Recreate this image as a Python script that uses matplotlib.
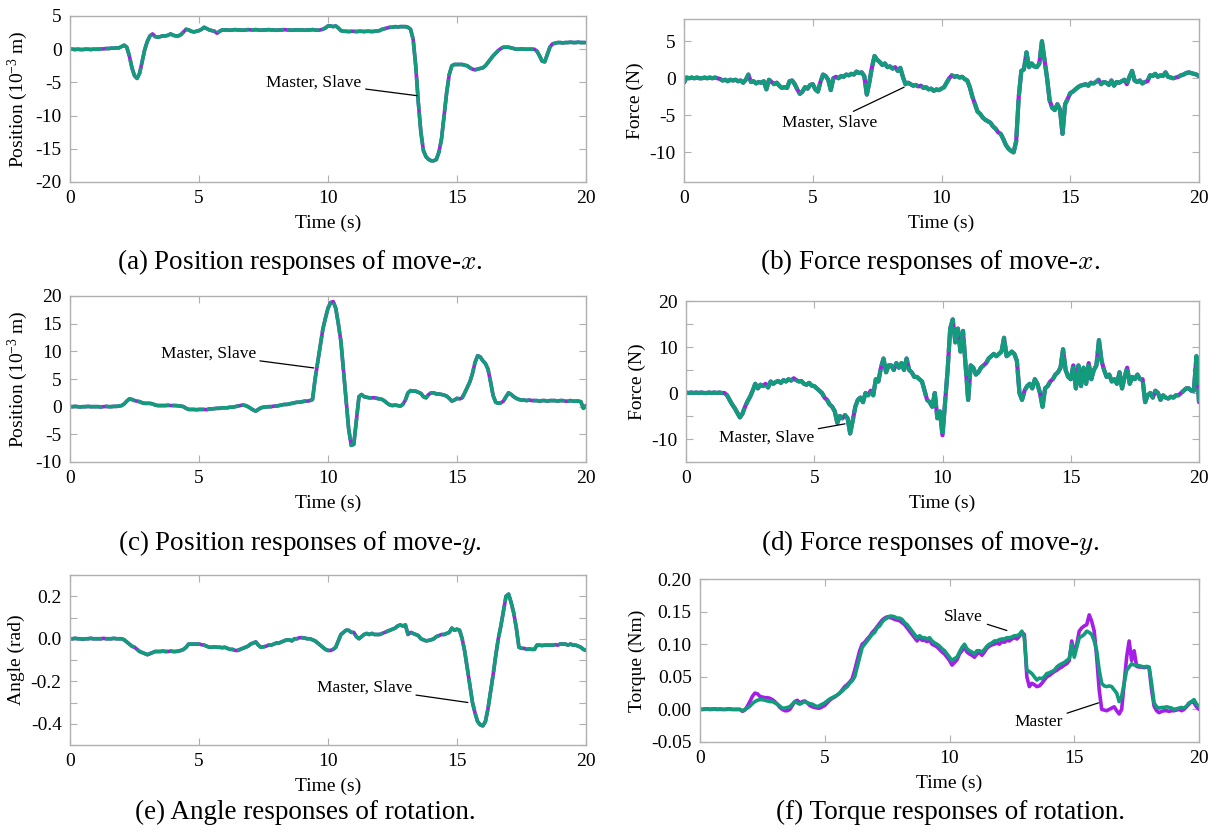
import numpy as np
import matplotlib
matplotlib.use('Agg')
import matplotlib.pyplot as plt
from matplotlib.ticker import MultipleLocator, FormatStrFormatter

# pyplot setup
plt.rcParams['font.family'] = ['Liberation Serif', 'DejaVu Serif']
plt.rcParams['mathtext.fontset'] = 'custom'
plt.rcParams['mathtext.rm'] = 'Liberation Serif'
plt.rcParams['mathtext.it'] = 'Liberation Serif:italic'
plt.rcParams['axes.unicode_minus'] = False
plt.rcParams['font.size'] = 14

W, H = 1221, 833
MASTER_COLOR = '#a41ee8'
SLAVE_COLOR = '#129c7c'
FRAME_COLOR = '#b0b0b0'

# sampled every 0.1 s from 0 to 20 s (one row = 1 s)
pos_x = [
    0.0, 0.0, -0.05, 0.0, -0.05, -0.05, 0.0, 0.0, -0.05, 0.0,
    0.0, 0.0, 0.05, 0.05, 0.1, 0.1, 0.15, 0.15, 0.2, 0.2,
    0.4, 0.6, 0.3, -1.0, -2.8, -4.0, -4.4, -3.6, -1.8, 0.0,
    1.2, 2.0, 2.3, 1.9, 1.8, 1.9, 2.0, 2.0, 2.1, 2.3,
    2.1, 2.0, 2.0, 2.2, 2.6, 3.0, 2.9, 2.7, 2.6, 2.7,
    2.8, 3.0, 3.3, 3.1, 2.9, 2.8, 2.7, 2.4, 2.7, 2.9,
    2.9, 2.9, 2.85, 2.9, 2.95, 2.9, 2.9, 2.85, 2.9, 2.95,
    2.9, 2.9, 2.95, 2.9, 2.85, 2.9, 2.9, 2.95, 2.9, 2.9,
    2.85, 2.9, 2.9, 2.95, 2.9, 2.9, 2.85, 2.9, 2.9, 2.9,
    2.9, 2.85, 2.9, 2.9, 2.95, 2.9, 2.85, 2.9, 3.0, 3.2,
    3.5, 3.5, 3.4, 3.5, 3.2, 2.8, 2.7, 2.7, 2.65, 2.7,
    2.7, 2.65, 2.7, 2.7, 2.65, 2.7, 2.7, 2.65, 2.7, 2.75,
    2.8, 3.0, 3.1, 3.2, 3.3, 3.3, 3.4, 3.35, 3.4, 3.4,
    3.4, 3.3, 3.0, 1.5, -2.5, -8.0, -12.5, -15.3, -16.2, -16.6,
    -16.8, -16.8, -16.6, -15.5, -13.5, -10.0, -6.5, -3.8, -2.5, -2.3,
    -2.3, -2.3, -2.3, -2.4, -2.5, -2.8, -3.0, -3.1, -3.0, -2.9,
    -2.8, -2.5, -2.0, -1.5, -1.0, -0.6, -0.2, 0.1, 0.3, 0.3,
    0.3, 0.2, 0.1, 0.0, 0.0, 0.05, 0.0, 0.0, 0.0, 0.0,
    0.0, -0.3, -1.0, -1.8, -1.9, -0.8, 0.3, 0.8, 0.9, 1.0,
    1.0, 0.95, 1.0, 1.0, 1.05, 1.0, 1.0, 1.05, 1.0, 1.0,
    1.0,
]

force_x = [
    -0.6, 0.1, 0.0, 0.1, 0.0, 0.1, 0.0, 0.0, 0.1, 0.0,
    0.1, 0.0, 0.1, 0.0, -0.1, -0.3, -0.2, -0.4, -0.2, -0.3,
    -0.2, -0.4, -0.3, -0.6, -0.2, 0.5, -0.5, -0.4, -0.7, -0.5,
    -0.6, -0.4, -1.5, -0.2, -0.5, -0.8, -0.6, -1.0, -1.3, -1.2,
    -1.3, -0.4, -0.3, -0.8, -1.5, -2.1, -1.8, -1.2, -1.4, -0.9,
    -0.8, -1.5, -1.8, -0.5, 0.5, 0.3, -0.2, -1.6, 0.0, 0.2,
    0.0, 0.3, 0.2, 0.5, 0.4, 0.6, 0.5, 0.9, 0.7, 0.8,
    0.3, -2.2, -0.5, 1.5, 3.0, 2.5, 2.2, 1.8, 2.0, 1.5,
    1.6, 1.3, 1.5, 1.0, 1.4, 0.2, -0.8, -0.6, -0.8, -1.0,
    -0.9, -1.1, -1.0, -1.3, -1.2, -1.5, -1.4, -1.7, -1.5, -1.6,
    -1.4, -1.2, -0.6, 0.0, 0.4, 0.2, 0.3, 0.1, 0.2, -0.1,
    -0.3, -1.2, -2.5, -3.5, -4.5, -4.8, -5.3, -5.6, -5.8, -6.0,
    -6.5, -6.8, -7.3, -7.5, -8.2, -9.0, -9.5, -9.8, -10.0, -8.5,
    -2.5, 1.0, 1.2, 3.5, 1.5, 2.0, 1.6, 1.5, 2.0, 5.0,
    2.5, 0.0, -3.0, -4.0, -4.3, -3.5, -4.2, -7.5, -3.5, -2.8,
    -2.0, -1.8, -1.5, -1.2, -1.0, -0.9, -0.8, -1.0, -0.6, -0.7,
    -0.5, -0.2, -0.8, -0.5, -0.6, -0.9, -0.3, -1.0, -0.5, -0.6,
    -0.4, -0.2, -0.8, 0.2, 1.0, -0.3, -0.5, -0.3, -0.7, -0.5,
    -0.4, 0.4, 0.3, 0.6, 0.2, 0.4, 0.3, 0.8, 0.2, 0.1,
    0.0, 0.1, 0.2, 0.4, 0.5, 0.7, 0.8, 0.7, 0.6, 0.5,
    0.3,
]

pos_y = [
    0.0, 0.0, 0.05, 0.0, -0.05, 0.0, 0.0, 0.05, 0.0, 0.0,
    0.0, 0.0, -0.05, 0.0, 0.05, 0.0, 0.0, 0.05, 0.05, 0.1,
    0.2, 0.5, 1.0, 1.4, 1.3, 1.1, 1.0, 0.9, 0.7, 0.6,
    0.6, 0.6, 0.5, 0.3, 0.2, 0.2, 0.2, 0.2, 0.25, 0.2,
    0.2, 0.2, 0.15, 0.1, 0.0, -0.3, -0.5, -0.5, -0.5, -0.55,
    -0.5, -0.5, -0.5, -0.55, -0.4, -0.4, -0.35, -0.3, -0.3, -0.2,
    -0.2, -0.2, -0.1, -0.1, 0.0, 0.1, 0.2, 0.3, 0.2, 0.0,
    -0.3, -0.6, -0.8, -0.5, -0.2, -0.1, -0.05, 0.0, 0.0, 0.1,
    0.1, 0.2, 0.3, 0.4, 0.4, 0.5, 0.6, 0.7, 0.8, 0.8,
    0.9, 1.0, 1.0, 1.1, 1.3, 5.0, 8.0, 11.0, 14.0, 16.0,
    17.8, 18.8, 19.0, 17.8, 15.0, 11.8, 6.5, 1.2, -4.0, -7.0,
    -6.8, -2.5, 1.8, 2.2, 1.8, 1.7, 1.6, 1.6, 1.6, 1.5,
    1.4, 1.3, 1.0, 0.6, 0.3, 0.2, 0.3, 0.2, 0.1, 0.4,
    1.2, 2.5, 2.9, 2.8, 2.8, 2.6, 2.4, 1.8, 1.6, 2.2,
    2.5, 2.5, 2.3, 2.3, 2.2, 2.1, 1.9, 1.5, 1.0, 1.2,
    1.5, 1.4, 1.6, 2.5, 3.5, 4.5, 6.0, 8.0, 9.2, 9.0,
    8.3, 7.8, 6.8, 4.5, 2.0, 0.8, 0.6, 0.7, 1.0, 1.8,
    2.5, 2.2, 1.8, 1.5, 1.3, 1.2, 1.2, 1.1, 1.2, 1.1,
    1.1, 1.1, 1.0, 1.1, 1.1, 1.0, 1.1, 1.1, 1.1, 1.0,
    1.1, 1.1, 1.0, 1.0, 1.1, 1.0, 1.0, 1.0, 0.9, -0.3,
    0.2,
]

force_y = [
    0.1, 0.0, 0.1, 0.0, 0.1, 0.0, 0.1, 0.0, 0.0, 0.1,
    0.0, 0.1, 0.0, 0.1, 0.0, 0.0, -0.5, -1.5, -2.5, -3.3,
    -4.3, -5.3, -4.5, -3.0, -1.8, -0.8, 0.5, 2.0, 1.0, 1.8,
    1.5, 2.0, 1.2, 2.5, 2.0, 2.4, 2.6, 2.2, 2.8, 2.5,
    3.0, 2.7, 3.2, 2.8, 2.5, 2.6, 2.0, 1.8, 2.2, 1.6,
    1.5, 1.0, 0.5, 0.0, -1.0, -1.5, -2.5, -3.0, -4.0, -6.5,
    -5.0, -5.5, -4.8, -5.5, -8.8, -6.0, -3.0, -1.5, -1.0, -2.0,
    0.0, -0.5, 0.5, -0.5, 3.0, 2.5, 5.5, 7.5, 4.5, 6.0,
    6.0, 5.0, 6.5, 5.5, 6.5, 5.0, 7.5, 5.0, 4.5, 3.5,
    3.5, 3.0, 2.5, 0.5, -1.5, -2.0, -3.0, 0.0, -5.5, -4.0,
    -9.2, -2.0, 5.0, 14.0, 16.0, 11.0, 14.0, 9.0, 13.5, 6.0,
    -1.5, 6.0, 5.5, 4.0, 4.5, 5.5, 6.0, 6.5, 7.5, 8.0,
    8.5, 8.0, 8.5, 9.0, 12.0, 8.0, 8.5, 9.0, 8.5, 7.0,
    0.0, -1.5, 0.5, 1.5, 2.0, 1.0, 3.0, 2.0, 0.0, -3.0,
    1.0, 1.5, 2.5, 3.0, 4.0, 4.5, 5.5, 9.5, 5.0, 3.5,
    3.0, 6.0, 1.0, 6.0, 1.5, 5.5, 2.0, 6.5, 3.0, 5.0,
    6.0, 11.5, 7.0, 5.0, 3.5, 4.0, 2.5, 3.0, 2.0, 4.5,
    1.0, 3.5, 5.5, 2.0, 3.5, 3.0, 4.0, 3.0, 3.0, -2.0,
    -0.5, 0.0, -1.0, 0.5, 0.0, -1.5, -0.5, -1.0, -1.2, -0.8,
    -1.0, -0.5, -0.5, 0.0, 0.5, 1.0, 1.0, 0.5, 0.5, 8.0,
    -2.0,
]

angle = [
    0.0, 0.0, 0.002, 0.0, 0.0, -0.002, 0.0, 0.0, 0.002, 0.0,
    0.0, 0.0, 0.0, 0.002, 0.0, 0.0, 0.0, 0.002, 0.0, 0.0,
    0.0, -0.005, -0.015, -0.025, -0.035, -0.04, -0.05, -0.06, -0.065, -0.07,
    -0.075, -0.07, -0.065, -0.06, -0.06, -0.06, -0.058, -0.06, -0.06, -0.058,
    -0.06, -0.06, -0.058, -0.055, -0.05, -0.04, -0.025, -0.025, -0.025, -0.025,
    -0.025, -0.028, -0.03, -0.035, -0.04, -0.04, -0.038, -0.04, -0.04, -0.042,
    -0.04, -0.045, -0.05, -0.05, -0.055, -0.055, -0.05, -0.045, -0.04, -0.035,
    -0.025, -0.02, -0.015, -0.03, -0.04, -0.038, -0.035, -0.03, -0.03, -0.025,
    -0.02, -0.02, -0.015, -0.01, -0.005, -0.005, -0.01, 0.0, 0.0, 0.005,
    0.005, 0.003, 0.0, 0.0, -0.005, -0.01, -0.02, -0.03, -0.04, -0.05,
    -0.055, -0.055, -0.05, -0.04, -0.01, 0.02, 0.03, 0.04, 0.04, 0.03,
    0.03, 0.01, 0.0, 0.01, 0.02, 0.025, 0.02, 0.025, 0.02, 0.02,
    0.02, 0.025, 0.03, 0.035, 0.04, 0.045, 0.05, 0.06, 0.065, 0.06,
    0.065, 0.02, 0.03, 0.025, 0.02, 0.015, 0.0, -0.005, -0.01, -0.008,
    -0.005, 0.0, 0.01, 0.015, 0.02, 0.02, 0.025, 0.03, 0.05, 0.04,
    0.045, 0.04, 0.0, -0.06, -0.14, -0.22, -0.3, -0.35, -0.39, -0.405,
    -0.41, -0.39, -0.33, -0.25, -0.17, -0.08, 0.0, 0.06, 0.13, 0.2,
    0.21, 0.17, 0.12, 0.05, -0.04, -0.045, -0.045, -0.05, -0.048, -0.05,
    -0.05, -0.03, -0.03, -0.032, -0.03, -0.03, -0.03, -0.03, -0.028, -0.03,
    -0.025, -0.025, -0.025, -0.03, -0.025, -0.03, -0.03, -0.035, -0.04, -0.05,
    -0.055,
]

torque_master = [
    0.0, 0.0, 0.0, 0.001, 0.0, 0.0, 0.001, 0.0, 0.0, 0.0,
    0.0, 0.0, 0.001, 0.0, 0.0, 0.0, 0.0, -0.003, -0.001, 0.005,
    0.012, 0.02, 0.025, 0.024, 0.02, 0.019, 0.018, 0.018, 0.017, 0.015,
    0.012, 0.008, 0.003, 0.0, -0.002, -0.002, 0.0, 0.006, 0.012, 0.014,
    0.01, 0.012, 0.013, 0.01, 0.006, 0.004, 0.003, 0.002, 0.002, 0.004,
    0.006, 0.01, 0.014, 0.017, 0.019, 0.022, 0.025, 0.03, 0.035, 0.038,
    0.042, 0.047, 0.06, 0.075, 0.09, 0.1, 0.103, 0.108, 0.112, 0.118,
    0.122, 0.127, 0.132, 0.137, 0.14, 0.142, 0.141, 0.14, 0.138, 0.137,
    0.136, 0.133, 0.13, 0.125, 0.12, 0.115, 0.11, 0.105, 0.11, 0.106,
    0.106, 0.104, 0.106, 0.1, 0.098, 0.096, 0.092, 0.088, 0.085, 0.08,
    0.075, 0.068, 0.072, 0.076, 0.085, 0.09, 0.095, 0.088, 0.085, 0.083,
    0.08, 0.085, 0.087, 0.083, 0.088, 0.094, 0.097, 0.099, 0.1, 0.102,
    0.1, 0.104, 0.103, 0.106, 0.105, 0.108, 0.11, 0.108, 0.112, 0.118,
    0.115, 0.05, 0.035, 0.04, 0.038, 0.035, 0.036, 0.04, 0.045, 0.05,
    0.052, 0.055, 0.058, 0.06, 0.063, 0.065, 0.068, 0.07, 0.075, 0.105,
    0.085, 0.1, 0.12, 0.125, 0.128, 0.13, 0.145, 0.135, 0.12, 0.08,
    0.03, 0.0, -0.001, -0.002, 0.0, 0.002, 0.004, -0.002, -0.007, 0.0,
    0.04, 0.08, 0.105, 0.075, 0.09, 0.066, 0.065, 0.065, 0.064, 0.065,
    0.064, 0.03, 0.005, -0.002, -0.005, -0.003, -0.002, -0.002, -0.003, -0.002,
    -0.002, -0.001, 0.0, -0.002, 0.0, 0.004, 0.008, 0.012, 0.01, 0.004,
    0.0,
]

torque_slave = [
    0.0, 0.0, 0.001, 0.0, 0.0, 0.001, 0.0, 0.0, 0.001, 0.0,
    0.0, 0.001, 0.0, 0.0, 0.0, 0.0, 0.0, -0.002, 0.0, 0.002,
    0.005, 0.009, 0.012, 0.014, 0.015, 0.015, 0.014, 0.013, 0.012, 0.012,
    0.01, 0.008, 0.005, 0.002, 0.002, 0.003, 0.004, 0.008, 0.012, 0.01,
    0.008, 0.01, 0.012, 0.01, 0.009, 0.008, 0.006, 0.004, 0.006, 0.008,
    0.01, 0.013, 0.016, 0.018, 0.02, 0.022, 0.025, 0.028, 0.032, 0.035,
    0.04, 0.044, 0.05, 0.065, 0.08, 0.095, 0.1, 0.105, 0.11, 0.115,
    0.118, 0.125, 0.128, 0.134, 0.138, 0.14, 0.143, 0.143, 0.142, 0.14,
    0.14, 0.138, 0.133, 0.13, 0.125, 0.12, 0.115, 0.11, 0.113, 0.11,
    0.11, 0.108, 0.11, 0.105, 0.102, 0.1, 0.097, 0.093, 0.09, 0.085,
    0.08, 0.075, 0.078, 0.08, 0.088, 0.095, 0.1, 0.093, 0.09, 0.088,
    0.085, 0.09, 0.09, 0.088, 0.092, 0.097, 0.1, 0.102, 0.105, 0.105,
    0.107, 0.108, 0.108, 0.11, 0.11, 0.111, 0.113, 0.113, 0.115, 0.12,
    0.11, 0.06, 0.058, 0.055, 0.05, 0.045, 0.048, 0.047, 0.05, 0.055,
    0.056, 0.058, 0.06, 0.065, 0.068, 0.07, 0.072, 0.075, 0.078, 0.1,
    0.08, 0.095, 0.11, 0.112, 0.115, 0.12, 0.118, 0.115, 0.105, 0.09,
    0.06, 0.04, 0.036, 0.035, 0.036, 0.035, 0.03, 0.025, 0.012, 0.02,
    0.04, 0.06, 0.065, 0.07, 0.068, 0.068, 0.067, 0.066, 0.065, 0.066,
    0.065, 0.04, 0.01, 0.004, 0.002, 0.003, 0.003, 0.004, 0.003, 0.002,
    0.0, 0.001, 0.002, 0.003, 0.002, 0.005, 0.01, 0.012, 0.015, 0.008,
    0.005,
]

captions = [
    r'(a) Position responses of move-$x$.',
    r'(b) Force responses of move-$x$.',
    r'(c) Position responses of move-$y$.',
    r'(d) Force responses of move-$y$.',
    '(e) Angle responses of rotation.',
    '(f) Torque responses of rotation.',
]


def add_axes_px(fig, x0, y0, x1, y1):
    '''add axes given pixel box (left, top, right, bottom)'''
    return fig.add_axes([x0 / W, 1 - y1 / H, (x1 - x0) / W, (y1 - y0) / H])


def draw_panel(ax, master, slave, ylim, step, ylabel, fmt=None, minor=None,
               dashed=True, lw=2.6):
    t_m = np.linspace(0, 20, len(master))
    t_s = np.linspace(0, 20, len(slave))
    ax.plot(t_m, master, color=MASTER_COLOR, lw=lw, solid_capstyle='round')
    ls = (0, (9, 0.8)) if dashed else '-'
    ax.plot(t_s, slave, color=SLAVE_COLOR, lw=lw, ls=ls)
    ax.set_xlim(0, 20)
    ax.set_ylim(*ylim)
    ax.xaxis.set_major_locator(MultipleLocator(5))
    ax.yaxis.set_major_locator(MultipleLocator(step))
    if minor:
        ax.yaxis.set_minor_locator(MultipleLocator(minor))
    if fmt:
        ax.yaxis.set_major_formatter(FormatStrFormatter(fmt))
    ax.tick_params(which='both', direction='in', top=True, right=True,
                   length=5, width=0.8, color=FRAME_COLOR, pad=6,
                   labelsize=14)
    for sp in ax.spines.values():
        sp.set_color(FRAME_COLOR)
        sp.set_linewidth(1.0)
    ax.set_xlabel('Time (s)', fontsize=14, labelpad=5)
    ax.set_ylabel(ylabel, fontsize=14, labelpad=4)


def annotate(ax, text, xy, xytext, ha='right'):
    ax.annotate(text, xy=xy, xytext=xytext, ha=ha, va='center', fontsize=12.5,
                arrowprops=dict(arrowstyle='-', color='black', lw=0.9,
                                shrinkA=1, shrinkB=0))


def main():
    fig = plt.figure(figsize=(W / 100, H / 100), dpi=100)

    pos_label = r'Position (10$^{-3}$ m)'

    ax = add_axes_px(fig, 70, 16, 586, 182)
    draw_panel(ax, pos_x, pos_x, (-20, 5), 5, pos_label)
    annotate(ax, 'Master, Slave', (13.45, -7.0), (11.3, -5.0))

    ax = add_axes_px(fig, 684, 19, 1199, 182)
    draw_panel(ax, force_x, force_x, (-14, 8), 5, 'Force (N)', lw=3.0)
    annotate(ax, 'Master, Slave', (8.55, -1.2), (7.5, -6.0))

    ax = add_axes_px(fig, 70, 296, 586, 462)
    draw_panel(ax, pos_y, pos_y, (-10, 20), 5, pos_label)
    annotate(ax, 'Master, Slave', (9.45, 7.0), (7.2, 9.5))

    ax = add_axes_px(fig, 686, 301, 1199, 462)
    draw_panel(ax, force_y, force_y, (-15, 20), 10, 'Force (N)', minor=5,
               lw=3.0)
    annotate(ax, 'Master, Slave', (6.2, -6.7), (5.0, -9.8))

    ax = add_axes_px(fig, 70, 575, 586, 745)
    draw_panel(ax, angle, angle, (-0.5, 0.3), 0.2, 'Angle (rad)', fmt='%.1f',
               minor=0.1)
    annotate(ax, 'Master, Slave', (15.42, -0.30), (13.25, -0.23))

    ax = add_axes_px(fig, 700, 579, 1199, 742)
    draw_panel(ax, torque_master, torque_slave, (-0.05, 0.2), 0.05,
               'Torque (Nm)', fmt='%.2f', dashed=False)
    annotate(ax, 'Slave', (12.3, 0.121), (11.35, 0.142))
    annotate(ax, 'Master', (15.97, 0.010), (14.55, -0.020))

    cap_pos = [(300, 262), (930, 262), (300, 543), (930, 543),
               (305, 812), (950, 812)]
    for (cx, cy), cap in zip(cap_pos, captions):
        fig.text(cx / W, 1 - cy / H, cap, ha='center', va='center',
                 fontsize=19.5, math_fontfamily='cm')

    fig.savefig('out.png', dpi=100, facecolor='white')


if __name__ == '__main__':
    main()
